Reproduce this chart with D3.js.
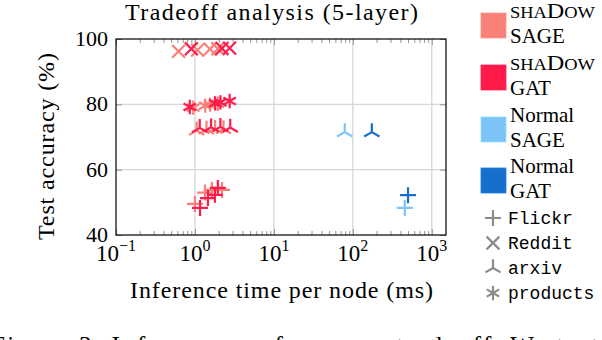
<!DOCTYPE html>
<html><head><meta charset="utf-8">
<script src="https://cdn.jsdelivr.net/npm/d3@7"></script>
<style>
html,body{margin:0;padding:0;background:#fff;overflow:hidden;}
text{font-family:"Liberation Serif",serif;fill:#000;}
.mono{font-family:"Liberation Mono",monospace;}
</style></head>
<body><svg id="c" width="602" height="340"></svg>
<script>
(function(){
// ---- data ----
const datasets = ["Flickr", "Reddit", "arxiv", "products"];
const seriesNames = ["shaDow SAGE", "shaDow GAT", "Normal SAGE", "Normal GAT"];
const seriesColors = ["#f98079", "#ff1c4b", "#7cc4f8", "#176fcc"];
const xTickLabels = ["-1", "0", "1", "2", "3"];
const yTicks = [40, 60, 80, 100];

const shadowSageSet  = ["Flickr","Flickr","Flickr","Flickr","Reddit","Reddit","Reddit","Reddit","arxiv","arxiv","arxiv","arxiv","products","products","products","products"];
const shadowSageTime = [1.0, 1.34, 1.64, 2.2, 0.62, 1.08, 1.55, 1.95, 1.05, 1.4, 1.8, 2.3, 0.95, 1.35, 1.55, 1.95];
const shadowSageAcc  = [49.5, 53.0, 53.8, 53.8, 96.2, 96.6, 96.9, 97.0, 72.0, 72.3, 72.5, 72.4, 79.0, 79.6, 79.9, 80.2];

const shadowGatSet  = ["Flickr","Flickr","Flickr","Flickr","Reddit","Reddit","Reddit","arxiv","arxiv","arxiv","arxiv","products","products","products","products"];
const shadowGatTime = [1.16, 1.46, 1.79, 1.95, 0.9, 2.2, 2.75, 1.15, 1.6, 2.1, 2.8, 0.86, 1.8, 2.1, 2.75];
const shadowGatAcc  = [48.3, 51.3, 52.3, 54.4, 97.0, 97.1, 97.2, 72.8, 73.0, 73.1, 72.9, 79.2, 80.3, 80.6, 81.0];

const normalSageSet  = ["Flickr", "arxiv"];
const normalSageTime = [455, 79];
const normalSageAcc  = [48.3, 71.5];

const normalGatSet  = ["Flickr", "arxiv"];
const normalGatTime = [500, 174];
const normalGatAcc  = [52.2, 71.5];

// ---- layout ----
const svg = d3.select("#c");
const L = 116, R = 446, T = 39, B = 235;
const x = d3.scaleLog().domain([0.1, Math.pow(10, 3.18)]).range([L, R]);
const y = d3.scaleLinear().domain([40, 100]).range([B, T]);

// grid
const majors = [0.1, 1, 10, 100, 1000];
svg.append("g").selectAll("line").data(majors.slice(1)).join("line")
  .attr("x1", d => x(d)).attr("x2", d => x(d)).attr("y1", T).attr("y2", B)
  .attr("stroke", "#d6d6d6").attr("stroke-width", 1.3);
svg.append("g").selectAll("line").data([60, 80]).join("line")
  .attr("x1", L).attr("x2", R).attr("y1", d => y(d)).attr("y2", d => y(d))
  .attr("stroke", "#d6d6d6").attr("stroke-width", 1.3);

// axes with d3 (ticks inside)
const minors = [];
[0.1, 1, 10, 100].forEach(b => { for (let k = 2; k <= 9; k++) minors.push(b * k); });
const gB = svg.append("g").attr("transform", `translate(0,${B})`)
  .call(d3.axisBottom(x).tickValues(minors).tickSize(-4).tickFormat(""));
const gBM = svg.append("g").attr("transform", `translate(0,${B})`)
  .call(d3.axisBottom(x).tickValues(majors).tickSize(-6).tickFormat(""));
const gT = svg.append("g").attr("transform", `translate(0,${T})`)
  .call(d3.axisTop(x).tickValues(minors).tickSize(-4).tickFormat(""));
const gTM = svg.append("g").attr("transform", `translate(0,${T})`)
  .call(d3.axisTop(x).tickValues(majors).tickSize(-6).tickFormat(""));
const gL = svg.append("g").attr("transform", `translate(${L},0)`)
  .call(d3.axisLeft(y).tickValues(yTicks).tickSize(-6).tickFormat(""));
const gR = svg.append("g").attr("transform", `translate(${R},0)`)
  .call(d3.axisRight(y).tickValues(yTicks).tickSize(-6).tickFormat(""));
[gB, gBM, gT, gTM, gL, gR].forEach(g => {
  g.select(".domain").remove();
  g.selectAll("line").attr("stroke", "#8a8a8a").attr("stroke-width", 0.9);
});
svg.append("rect").attr("x", L).attr("y", T).attr("width", R - L).attr("height", B - T)
  .attr("fill", "none").attr("stroke", "#000").attr("stroke-width", 1.2);

// tick labels
const xl = svg.append("g").selectAll("text").data(majors).join("text")
  .attr("x", d => x(d)).attr("y", 261).attr("text-anchor", "middle").attr("font-size", 23);
xl.each(function(d, i) {
  const t = d3.select(this);
  t.append("tspan").text("10");
  t.append("tspan").attr("dy", -10).attr("font-size", 16).text(xTickLabels[i].replace("-", "\u2212"));
});
svg.append("g").selectAll("text").data(yTicks).join("text")
  .attr("x", 108).attr("y", d => y(d) + 7).attr("text-anchor", "end").attr("font-size", 22)
  .text(d => d);

// titles
svg.append("text").attr("x", 271.5).attr("y", 20).attr("text-anchor", "middle").attr("font-size", 24)
  .attr("textLength", 293).attr("lengthAdjust", "spacing")
  .text("Tradeoff analysis (5-layer)");
svg.append("text").attr("x", 281.5).attr("y", 298).attr("text-anchor", "middle").attr("font-size", 24)
  .attr("textLength", 303).attr("lengthAdjust", "spacing")
  .text("Inference time per node (ms)");
svg.append("text").attr("transform", "translate(54,146.5) rotate(-90)").attr("text-anchor", "middle")
  .attr("font-size", 24).attr("textLength", 187).attr("lengthAdjust", "spacing")
  .text("Test accuracy (%)");
svg.append("text").attr("x", -9).attr("y", 354).attr("font-size", 25)
  .attr("textLength", 607).attr("lengthAdjust", "spacing")
  .text("Figure 3: Inference performance tradeoff. We test");

// markers
function markerPath(kind, s) {
  const p = d3.path();
  const arm = (ang, r) => { p.moveTo(0, 0); p.lineTo(r * Math.cos(ang), -r * Math.sin(ang)); };
  if (kind === "Flickr") { p.moveTo(-s, 0); p.lineTo(s, 0); p.moveTo(0, -s); p.lineTo(0, s); }
  else if (kind === "Reddit") { const r = s * 0.8; p.moveTo(-r, -r); p.lineTo(r, r); p.moveTo(-r, r); p.lineTo(r, -r); }
  else if (kind === "arxiv") { [90, 210, 330].forEach(a => arm(a * Math.PI / 180, s * 1.1)); }
  else { [90, 150, 210, 270, 330, 30].forEach(a => arm(a * Math.PI / 180, s * 0.9)); }
  return p.toString();
}
const series = [
  {set: shadowSageSet, time: shadowSageTime, acc: shadowSageAcc},
  {set: shadowGatSet, time: shadowGatTime, acc: shadowGatAcc},
  {set: normalSageSet, time: normalSageTime, acc: normalSageAcc},
  {set: normalGatSet, time: normalGatTime, acc: normalGatAcc}
];
const marks = svg.append("g");
series.forEach((s, si) => {
  const pts = s.time.map((t, i) => ({t, a: s.acc[i], k: s.set[i]}));
  marks.append("g").selectAll("path").data(pts).join("path")
    .attr("transform", d => `translate(${x(d.t)},${y(d.a)})`)
    .attr("d", d => markerPath(d.k, 8))
    .attr("fill", "none").attr("stroke", seriesColors[si]).attr("stroke-width", 2.2);
});

// legend
const lg = svg.append("g");
const sw = [13, 65, 117, 168];
const lab1 = ["shaDow", "shaDow", "Normal", "Normal"];
const lab2 = ["SAGE", "GAT", "SAGE", "GAT"];
seriesNames.forEach((n, i) => {
  lg.append("rect").attr("x", 481).attr("y", sw[i]).attr("width", 25).attr("height", 25)
    .attr("fill", seriesColors[i]).attr("stroke", d3.color(seriesColors[i]).brighter(0.4)).attr("stroke-width", 0.8);
  const t1 = lg.append("text").attr("x", 510).attr("y", sw[i] + 5).attr("font-size", 21);
  if (i < 2) {
    t1.attr("textLength", 85).attr("lengthAdjust", "spacingAndGlyphs");
    t1.append("tspan").attr("font-size", 16).text("SHA");
    t1.append("tspan").text("D");
    t1.append("tspan").attr("font-size", 16).text("OW");
  } else t1.text(lab1[i]);
  lg.append("text").attr("x", 510).attr("y", sw[i] + 30).attr("font-size", 21).text(lab2[i]);
});
datasets.forEach((d, i) => {
  const cy = 218 + i * 25;
  lg.append("path").attr("transform", `translate(493,${cy})`).attr("d", markerPath(d, 8))
    .attr("fill", "none").attr("stroke", "#8c8c8c").attr("stroke-width", 2.2);
  lg.append("text").attr("class", "mono").attr("x", 508).attr("y", cy + 6).attr("font-size", 18).text(d);
});
})();
</script></body></html>
